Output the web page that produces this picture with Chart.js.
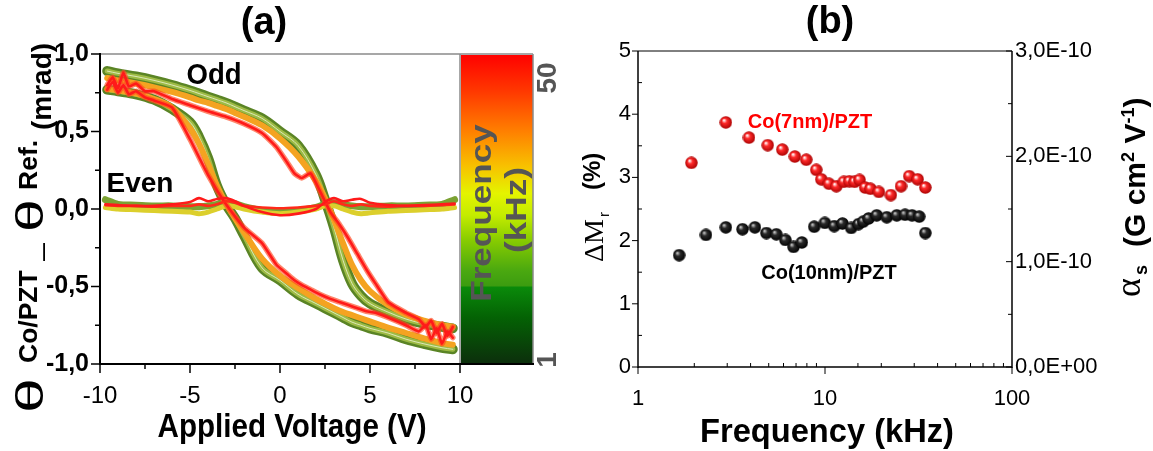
<!DOCTYPE html>
<html>
<head>
<meta charset="utf-8">
<script src="https://cdn.jsdelivr.net/npm/chart.js@4.4.1/dist/chart.umd.min.js"></script>
<style>
  html, body { margin: 0; padding: 0; background: #fff; }
  #page { position: relative; width: 1153px; height: 451px; overflow: hidden; font-family: 'Liberation Sans', Arial, sans-serif; color: #000; }
  canvas { position: absolute; top: 0; }
  .lbl { position: absolute; white-space: nowrap; line-height: 1; font-weight: bold; }
  .rot { position: absolute; width: 400px; height: 70px; transform-origin: 0 0; transform: rotate(-90deg); }
  .rot span { position: absolute; white-space: nowrap; line-height: 1; }
  .rot sup { font-size: 18px; vertical-align: baseline; position: relative; top: -11px; }
  .bar { position: absolute; white-space: nowrap; width: 200px; height: 30px; line-height: 30px; text-align: center; font-weight: bold; color: #555; }
</style>
</head>
<body>
<div id="page">
  <canvas id="chartA" width="580" height="451" style="left:0"></canvas>
  <canvas id="chartB" width="573" height="451" style="left:580px"></canvas>

  <div class="lbl" style="left:264px; top:2px; font-size:38px; transform:translateX(-50%)">(a)</div>
  <div class="lbl" style="left:830px; top:1px; font-size:38px; transform:translateX(-50%)">(b)</div>
  <div class="lbl" style="left:292px; top:408px; font-size:34px; transform:translateX(-50%) scaleX(0.87)">Applied Voltage (V)</div>
  <div class="lbl" style="left:827px; top:413px; font-size:34px; transform:translateX(-50%) scaleX(0.96)">Frequency (kHz)</div>

  <div class="lbl" style="left:214px; top:60px; font-size:29px; transform:translateX(-50%) scaleX(0.95)">Odd</div>
  <div class="lbl" style="left:140px; top:169px; font-size:28px; transform:translateX(-50%)">Even</div>
  <div class="lbl" style="left:810px; top:111px; font-size:20px; color:#ff0000; transform:translateX(-50%)">Co(7nm)/PZT</div>
  <div class="lbl" style="left:829px; top:262px; font-size:20px; transform:translateX(-50%)">Co(10nm)/PZT</div>

  <div class="bar" style="left:381px; top:198px; font-size:30px; transform:rotate(-90deg) scaleX(1.17)">Frequency</div>
  <div class="bar" style="left:416px; top:195px; font-size:30px; transform:rotate(-90deg) scaleX(1.17)">(kHz)</div>
  <div class="bar" style="left:447px; top:63px; font-size:28px; transform:rotate(-90deg)">50</div>
  <div class="bar" style="left:447px; top:345px; font-size:28px; transform:rotate(-90deg)">1</div>

  <!-- y title of panel (a) -->
  <div class="rot" style="left:0; top:413px;">
    <span style="left:0; top:11px; font-size:38px; transform:scaleX(1.65); transform-origin:0 0;">θ</span>
    <span style="left:50px; top:16px; font-size:25px; font-weight:bold; transform:scaleX(1.06); transform-origin:0 0;">Co/PZT</span>
    <span style="left:152px; top:33.8px; font-size:18px; font-weight:bold;">—</span>
    <span style="left:181px; top:11px; font-size:38px; transform:scaleX(1.55); transform-origin:0 0;">θ</span>
    <span style="left:223px; top:16px; font-size:25px; font-weight:bold; transform:scaleX(1.06); transform-origin:0 0;">Ref.</span>
    <span style="left:283px; top:28.3px; font-size:28px; font-weight:bold;">(mrad)</span>
  </div>

  <!-- left y title of panel (b) -->
  <div class="rot" style="left:580px; top:262px;">
    <span style="left:0; top:0; font-size:28px; font-family:'Liberation Serif',serif;">ΔM</span>
    <span style="left:45px; top:16px; font-size:15px;">r</span>
    <span style="left:72px; top:0; font-size:24px; font-weight:bold;">(%)</span>
  </div>

  <!-- right y title of panel (b) -->
  <div class="rot" style="left:1110px; top:297px;">
    <span style="left:0; top:0; font-size:36px; font-family:'Liberation Serif',serif;">α</span>
    <span style="left:22px; top:22px; font-size:18px; font-weight:bold;">s</span>
    <span style="left:50px; top:9.6px; font-size:30px; font-weight:bold;">(G cm<sup>2</sup> V<sup>-1</sup>)</span>
  </div>
</div>

<script>
// ---------- panel (a): Kerr rotation loops vs applied voltage ----------
const volts = [-9.6, -9, -8, -7, -6, -5, -4.5, -4, -3.5, -3, -2.5, -2, -1, 0, 1, 2, 2.5, 3, 3.5, 4, 4.5, 5, 6, 7, 8, 9, 9.6];
const voltsRed = [-9.6, -9.3, -9, -8.7, -8.4, -8, -7.5, -7, -6, -5, -4, -3, -2, -1, -0.2, 0.4, 0.8, 1.2, 1.7, 2.2, 2.8, 3.3, 3.8, 4.3, 4.8, 5.3, 6, 7, 7.7, 8.1, 8.4, 8.7, 9, 9.3, 9.6];
const voltsEven = [-9.7, -9, -8, -7, -6, -5, -4.5, -4, -3.5, -3, -2.5, -2, -1, 0, 1, 2, 2.5, 3, 3.5, 4, 4.5, 5, 6, 7, 8, 9, 9.7];

// odd signal, low frequency (green)
const oddGreenA = [0.89, 0.875, 0.855, 0.83, 0.80, 0.765, 0.745, 0.725, 0.705, 0.685, 0.66, 0.635, 0.585, 0.50, 0.41, 0.22, 0.06, -0.12, -0.33, -0.48, -0.56, -0.61, -0.665, -0.71, -0.74, -0.76, -0.77];
const oddGreenB = [0.77, 0.76, 0.74, 0.705, 0.645, 0.56, 0.465, 0.33, 0.15, 0.03, -0.06, -0.17, -0.38, -0.46, -0.55, -0.61, -0.64, -0.67, -0.70, -0.73, -0.75, -0.77, -0.80, -0.84, -0.87, -0.895, -0.905];
// odd signal, mid frequency (orange)
const oddOrangeA = [0.845, 0.83, 0.81, 0.785, 0.755, 0.72, 0.70, 0.685, 0.665, 0.645, 0.62, 0.595, 0.54, 0.455, 0.34, 0.18, 0.07, -0.07, -0.22, -0.36, -0.46, -0.53, -0.62, -0.68, -0.72, -0.75, -0.76];
const oddOrangeB = [0.775, 0.765, 0.745, 0.71, 0.655, 0.52, 0.42, 0.29, 0.15, 0.035, -0.06, -0.15, -0.32, -0.43, -0.51, -0.58, -0.61, -0.64, -0.665, -0.685, -0.705, -0.725, -0.765, -0.80, -0.835, -0.865, -0.875];
// odd signal, 50 kHz (red)
const oddRedA = [0.80, 0.85, 0.78, 0.88, 0.79, 0.81, 0.76, 0.76, 0.71, 0.67, 0.63, 0.595, 0.55, 0.49, 0.40, 0.30, 0.23, 0.20, 0.23, 0.12, -0.02, -0.10, -0.19, -0.29, -0.39, -0.48, -0.60, -0.67, -0.71, -0.76, -0.72, -0.80, -0.74, -0.82, -0.76];
const oddRedB = [0.77, 0.82, 0.75, 0.80, 0.74, 0.76, 0.72, 0.70, 0.655, 0.45, 0.22, 0.03, -0.12, -0.22, -0.36, -0.42, -0.46, -0.49, -0.52, -0.55, -0.58, -0.60, -0.62, -0.64, -0.66, -0.67, -0.70, -0.75, -0.79, -0.75, -0.84, -0.77, -0.87, -0.79, -0.83];

// even signal
const evenGreen = [0.06, 0.03, 0.025, 0.02, 0.02, 0.015, 0.015, 0.02, 0.03, 0.04, 0.035, 0.015, -0.01, -0.02, -0.01, 0.01, 0.03, 0.04, 0.03, 0.02, 0.015, 0.015, 0.02, 0.02, 0.025, 0.03, 0.06];
const evenYellow = [0.01, 0.0, -0.005, -0.01, -0.015, -0.02, -0.03, -0.02, 0.0, 0.02, 0.015, 0.0, -0.02, -0.03, -0.02, 0.0, 0.02, 0.02, 0.0, -0.02, -0.03, -0.025, -0.015, -0.01, -0.005, 0.0, 0.01];
const evenRed = [0.03, 0.025, 0.02, 0.02, 0.03, 0.045, 0.07, 0.05, 0.065, 0.07, 0.05, 0.02, -0.02, -0.04, -0.03, 0.0, 0.045, 0.07, 0.05, 0.06, 0.065, 0.04, 0.025, 0.02, 0.025, 0.03, 0.035];
const evenRed2 = [0.025, 0.02, 0.02, 0.015, 0.02, 0.02, 0.03, 0.02, 0.03, 0.05, 0.04, 0.02, 0.01, 0.005, 0.01, 0.02, 0.03, 0.05, 0.03, 0.02, 0.03, 0.02, 0.015, 0.02, 0.02, 0.025, 0.03];

// colour scale (top = 50 kHz, bottom = 1 kHz)
const barStops = [[0, '#ff0000'], [0.12, '#ff3800'], [0.25, '#ff8000'], [0.36, '#f8c000'], [0.45, '#e4f400'], [0.52, '#c4ec00'], [0.6, '#88cc00'], [0.7, '#4aa810'], [0.748, '#3c9c10'], [0.752, '#0a8a0a'], [0.85, '#046204'], [1, '#0c2e0c']];

// ---------- panel (b): remanence change vs frequency ----------
const freq7 = [1.93, 2.95, 3.92, 4.94, 5.91, 6.90, 7.94, 8.98, 9.55, 10.5, 11.5, 12.6, 13.5, 14.4, 15.3, 16.4, 17.5, 19.4, 22.5, 25.5, 28.2, 31.3, 34.4];
const dMr7 = [3.23, 3.87, 3.63, 3.51, 3.44, 3.33, 3.28, 3.12, 2.97, 2.90, 2.86, 2.93, 2.94, 2.93, 2.96, 2.84, 2.82, 2.77, 2.72, 2.86, 3.02, 2.97, 2.84];
const freq10 = [1.66, 2.31, 2.95, 3.62, 4.22, 4.86, 5.49, 6.14, 6.79, 7.52, 8.76, 9.98, 11.2, 12.4, 13.8, 15.1, 16.0, 17.1, 18.9, 21.4, 24.2, 26.8, 29.2, 31.9, 34.4];
const dMr10 = [1.77, 2.09, 2.21, 2.18, 2.21, 2.12, 2.10, 2.01, 1.90, 1.97, 2.22, 2.28, 2.23, 2.27, 2.20, 2.26, 2.30, 2.35, 2.40, 2.37, 2.40, 2.41, 2.40, 2.38, 2.12];
const freqTickLabels = [1, 10, 100];

Chart.defaults.font.family = "'Liberation Sans', Arial, sans-serif";
Chart.defaults.color = '#000';

function pts(xs, ys) {
    return xs.map((x, i) => ({ x: x, y: ys[i] }));
}

function curve(xs, ys, color, width, tension) {
    return {
        data: pts(xs, ys),
        borderColor: color,
        borderWidth: width,
        pointRadius: 0,
        tension: tension,
        fill: false,
        borderCapStyle: 'round',
        borderJoinStyle: 'round'
    };
}

function seg(ctx, x1, y1, x2, y2) {
    ctx.beginPath();
    ctx.moveTo(x1, y1);
    ctx.lineTo(x2, y2);
    ctx.stroke();
}

// shaded ball used as marker
function ball(light, base, dark) {
    const c = document.createElement('canvas');
    c.width = 13; c.height = 13;
    const g = c.getContext('2d');
    const grad = g.createRadialGradient(4.5, 4.2, 0.4, 6.5, 6.5, 6.5);
    grad.addColorStop(0, light);
    grad.addColorStop(0.35, base);
    grad.addColorStop(1, dark);
    g.fillStyle = grad;
    g.beginPath();
    g.arc(6.5, 6.5, 6.2, 0, Math.PI * 2);
    g.fill();
    return c;
}

function sci(v) {
    if (v === 0) return '0,0E+00';
    const e = Math.floor(Math.log10(v) + 1e-9);
    const m = v / Math.pow(10, e);
    return m.toFixed(1).replace('.', ',') + 'E' + (e < 0 ? '-' : '+') + String(Math.abs(e)).padStart(2, '0');
}

// frame, ticks and colour bar for panel (a)
const frameA = {
    id: 'frameA',
    afterDraw(chart) {
        const { ctx, chartArea: a, scales: { x, y } } = chart;
        const barR = a.right + 73;
        ctx.save();
        const g = ctx.createLinearGradient(0, a.top, 0, a.bottom);
        barStops.forEach(s => g.addColorStop(s[0], s[1]));
        ctx.fillStyle = g;
        ctx.fillRect(a.right + 1, a.top + 1, barR - a.right - 1, a.bottom - a.top - 1);

        ctx.strokeStyle = '#8a8a8a';
        ctx.lineWidth = 1.5;
        seg(ctx, a.left, a.top, barR, a.top);
        seg(ctx, a.right, a.top, a.right, a.bottom);
        seg(ctx, barR, a.top, barR, a.bottom);

        ctx.strokeStyle = '#000';
        ctx.lineWidth = 2;
        seg(ctx, a.left, a.top - 1, a.left, a.bottom + 1);
        seg(ctx, a.left - 1, a.bottom, barR + 1, a.bottom);

        ctx.lineWidth = 1.5;
        const xs = x.ticks.map(t => x.getPixelForValue(t.value));
        xs.forEach((px, i) => {
            seg(ctx, px, a.bottom, px, a.bottom + 9);
            if (i) {
                const m = (px + xs[i - 1]) / 2;
                seg(ctx, m, a.bottom, m, a.bottom + 5);
            }
        });
        const ys = y.ticks.map(t => y.getPixelForValue(t.value));
        ys.forEach((py, i) => {
            seg(ctx, a.left - 9, py, a.left, py);
            if (i) {
                const m = (py + ys[i - 1]) / 2;
                seg(ctx, a.left - 5, m, a.left, m);
            }
        });
        ctx.restore();
    }
};

// frame and ticks for panel (b)
const frameB = {
    id: 'frameB',
    afterDraw(chart) {
        const { ctx, chartArea: a, scales: { x, y, y2 } } = chart;
        ctx.save();
        ctx.strokeStyle = '#000';
        ctx.lineWidth = 1;
        seg(ctx, a.left, a.top, a.right, a.top);
        ctx.lineWidth = 1.5;
        seg(ctx, a.left, a.top, a.left, a.bottom + 1);
        seg(ctx, a.left, a.bottom, a.right, a.bottom);
        seg(ctx, a.right, a.top, a.right, a.bottom + 1);

        ctx.lineWidth = 1;
        const ys = y.ticks.map(t => y.getPixelForValue(t.value));
        ys.forEach((py, i) => {
            seg(ctx, a.left - 6, py, a.left, py);
            if (i) {
                const m = (py + ys[i - 1]) / 2;
                seg(ctx, a.left, m, a.left + 4, m);
            }
        });
        const ys2 = y2.ticks.map(t => y2.getPixelForValue(t.value));
        ys2.forEach((py, i) => {
            seg(ctx, a.right - 6, py, a.right, py);
            if (i) {
                const m = (py + ys2[i - 1]) / 2;
                seg(ctx, a.right - 4, m, a.right, m);
            }
        });
        x.ticks.forEach(t => {
            const px = x.getPixelForValue(t.value);
            if (freqTickLabels.includes(t.value)) {
                seg(ctx, px, a.bottom, px, a.bottom + 7);
            } else {
                seg(ctx, px, a.bottom - 4, px, a.bottom);
            }
        });
        ctx.restore();
    }
};

const hiddenGrid = { drawOnChartArea: false, color: 'rgba(0,0,0,0)' };

// Panel (a)
new Chart(document.getElementById('chartA'), {
    type: 'line',
    data: {
        datasets: [
            curve(voltsEven, evenRed, '#ff1a1a', 2.6, 0.3),
            curve(voltsEven, evenRed2, '#ff2a1a', 2.6, 0.3),
            curve(voltsRed, oddRedA, '#ff1a1a', 2.6, 0.15),
            curve(voltsRed, oddRedB, '#ff1a1a', 2.6, 0.15),
            curve(voltsRed, oddRedA, 'rgba(255,70,30,0.65)', 5.5, 0.15),
            curve(voltsRed, oddRedB, 'rgba(255,70,30,0.65)', 5.5, 0.15),
            curve(voltsEven, evenYellow, '#dccf2c', 5, 0.3),
            curve(volts, oddOrangeA, '#f4a321', 6, 0.35),
            curve(volts, oddOrangeB, '#f4a321', 6, 0.35),
            curve(voltsEven, evenGreen, '#7ba232', 7, 0.3),
            curve(volts, oddGreenA, 'rgba(235,242,210,0.8)', 1, 0.35),
            curve(volts, oddGreenB, 'rgba(235,242,210,0.8)', 1, 0.35),
            curve(volts, oddGreenA, '#9dbb45', 5, 0.35),
            curve(volts, oddGreenB, '#9dbb45', 5, 0.35),
            curve(volts, oddGreenA, '#5a8425', 10, 0.35),
            curve(volts, oddGreenB, '#5a8425', 10, 0.35)
        ]
    },
    options: {
        responsive: false,
        animation: false,
        events: [],
        layout: { padding: { top: 54, right: 120, left: 0, bottom: 0 } },
        plugins: { legend: { display: false }, tooltip: { enabled: false } },
        scales: {
            x: {
                type: 'linear', min: -10, max: 10,
                ticks: { stepSize: 5, font: { size: 24 }, padding: 10, maxRotation: 0 },
                grid: Object.assign({ tickLength: 8 }, hiddenGrid),
                border: { display: false },
                afterFit: s => { s.height = 87; }
            },
            y: {
                min: -1, max: 1,
                ticks: { stepSize: 0.5, font: { size: 25, weight: 'bold' }, padding: 3,
                         callback: v => v.toFixed(1).replace('.', ',') },
                grid: Object.assign({ tickLength: 8 }, hiddenGrid),
                border: { display: false },
                afterFit: s => { s.width = 100; }
            }
        }
    },
    plugins: [frameA]
});

// Panel (b)
const redBall = ball('#ffffff', '#ff2a2a', '#a80000');
const blackBall = ball('#c8c8c8', '#2a2a2a', '#000000');

new Chart(document.getElementById('chartB'), {
    type: 'scatter',
    data: {
        datasets: [
            { data: pts(freq7, dMr7), pointStyle: redBall, pointRadius: 6 },
            { data: pts(freq10, dMr10), pointStyle: blackBall, pointRadius: 6 }
        ]
    },
    options: {
        responsive: false,
        animation: false,
        events: [],
        layout: { padding: { top: 51, right: 0, left: 0, bottom: 0 } },
        plugins: { legend: { display: false }, tooltip: { enabled: false } },
        scales: {
            x: {
                type: 'logarithmic', min: 1, max: 100,
                ticks: { autoSkip: false, maxRotation: 0, font: { size: 22 }, padding: 13,
                         callback: v => freqTickLabels.includes(v) ? String(v) : '' },
                grid: Object.assign({ tickLength: 6 }, hiddenGrid),
                border: { display: false },
                afterFit: s => { s.height = 84; }
            },
            y: {
                position: 'left', min: 0, max: 5,
                ticks: { stepSize: 1, font: { size: 22 }, padding: 1 },
                grid: Object.assign({ tickLength: 6 }, hiddenGrid),
                border: { display: false },
                afterFit: s => { s.width = 58; }
            },
            y2: {
                display: true, position: 'right', min: 0, max: 3e-10,
                ticks: { stepSize: 1e-10, font: { size: 22 }, padding: 3, callback: v => sci(v) },
                grid: Object.assign({ drawTicks: false }, hiddenGrid),
                border: { display: false },
                afterFit: s => { s.width = 141; }
            }
        }
    },
    plugins: [frameB]
});
</script>
</body>
</html>
